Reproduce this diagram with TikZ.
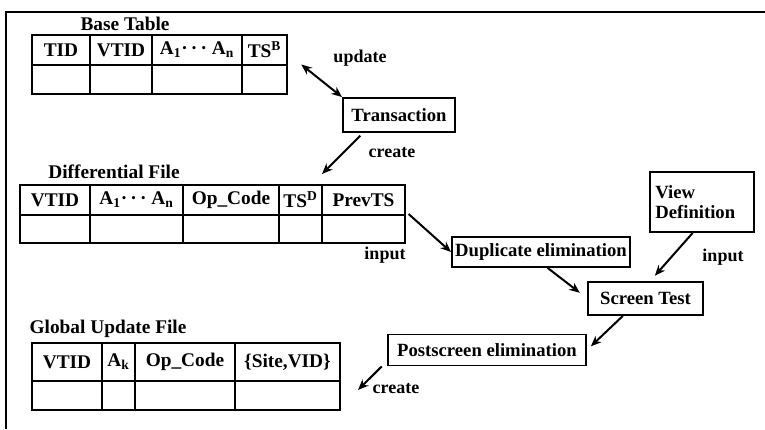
\documentclass[tikz,border=0pt]{standalone}
\usepackage{fontspec}
\setmainfont{Liberation Serif}
\usetikzlibrary{arrows.meta,fit}

\tikzset{
  tbl/.style={draw, line width=1.4pt, inner sep=0pt},
  rule/.style={line width=1.1pt},
  hdcell/.style={font=\fontsize{14.5}{16}\selectfont\bfseries, inner sep=1pt},
  tbltitle/.style={font=\fontsize{14.5}{16}\selectfont\bfseries, inner sep=1pt},
  proc/.style={draw, line width=1.4pt, font=\fontsize{14}{16}\selectfont\bfseries, inner sep=2pt},
  lbl/.style={font=\fontsize{13.5}{15}\selectfont\bfseries, inner sep=1pt},
  link/.style={line width=1.5pt, >={Stealth[length=8pt,width=6.5pt]}},
}

\begin{document}
\begin{tikzpicture}[x=0.75pt,y=-0.75pt]
  \useasboundingbox (0,0) rectangle (765,429);
  % frame
  \draw[line width=1pt] (6,429) -- (6,12) -- (765,12);

  % base table
  \node[tbltitle] (basettl) at (125,24) {Base Table};
  \node[tbl, fit={(32,35) (287,94)}] (base) {};
  \draw[rule] (32,65) -- (287,65);
  \foreach \x in {90,152,242}
    \draw[rule] (\x,35) -- (\x,94);
  \node[hdcell] (btid) at (61,50) {TID};
  \node[hdcell] (bvtid) at (121,50) {VTID};
  \node[hdcell] (battr) at (197,50) {A\textsubscript{1}·\,·\,· A\textsubscript{n}};
  \node[hdcell] (bts) at (264.5,50) {TS\textsuperscript{B}};

  % differential file
  \node[tbltitle] (diffttl) at (114,172) {Differential File};
  \node[tbl, fit={(20,185) (405,243)}] (diff) {};
  \draw[rule] (20,215) -- (405,215);
  \foreach \x in {90,183,279,322}
    \draw[rule] (\x,185) -- (\x,243);
  \node[hdcell] (dvtid) at (55,200) {VTID};
  \node[hdcell] (dattr) at (136.5,200) {A\textsubscript{1}·\,·\,· A\textsubscript{n}};
  \node[hdcell] (dop) at (231,200) {Op\_Code};
  \node[hdcell] (dts) at (300.5,200) {TS\textsuperscript{D}};
  \node[hdcell] (dprev) at (363.5,200) {PrevTS};

  % global update file
  \node[tbltitle] (globttl) at (108,329) {Global Update File};
  \node[tbl, fit={(32,343) (340,410)}] (glob) {};
  \draw[rule] (32,381) -- (340,381);
  \foreach \x in {102,135,235}
    \draw[rule] (\x,343) -- (\x,410);
  \node[hdcell] (gvtid) at (67,362) {VTID};
  \node[hdcell] (gattr) at (118.5,362) {A\textsubscript{k}};
  \node[hdcell] (gop) at (185,362) {Op\_Code};
  \node[hdcell] (gsite) at (287.5,362) {\{Site,VID\}};

  % processes
  \node[proc, minimum width=84pt, minimum height=25.5pt] (trans) at (399,115) {Transaction};
  \node[proc, minimum width=133.5pt, minimum height=22.5pt] (dup) at (541,252) {Duplicate elimination};
  \node[proc, minimum width=78pt, minimum height=45pt, align=left, text width=70pt,
        font=\fontsize{14}{15}\selectfont\bfseries] (view) at (702,202) {View\\Definition};
  \node[proc, minimum width=86pt, minimum height=24.75pt] (screen) at (645.5,298.5) {Screen Test};
  \node[proc, minimum width=148.5pt, minimum height=23.25pt] (post) at (487,350) {Postscreen elimination};

  % labels
  \node[lbl] (lupd) at (360,58) {update};
  \node[lbl] (lcr1) at (392,153) {create};
  \node[lbl] (lin1) at (385,255) {input};
  \node[lbl] (lin2) at (723,257) {input};
  \node[lbl] (lcr2) at (396,389) {create};

  \coordinate (diffin) at (322,174);
  \coordinate (globin) at (358,390);

  % connectors
  \draw[link,<->] ([xshift=10pt]base.east) -- (trans.north west);
  \draw[link,->] ([xshift=-29pt,yshift=-2pt]trans.south) -- (diffin);
  \draw[link,->] ([xshift=2pt]diff.east) -- (dup.west);
  \draw[link,->,shorten >=7pt] ([xshift=5pt]dup.south) -- (screen.west);
  \draw[link,->] ([xshift=-7pt]view.south) -- ([xshift=7pt,yshift=4pt]screen.north);
  \draw[link,->,shorten >=4pt] ([xshift=-17pt]screen.south) -- (post.east);
  \draw[link,->] ([xshift=-4pt]post.south west) -- (globin);
\end{tikzpicture}
\end{document}
